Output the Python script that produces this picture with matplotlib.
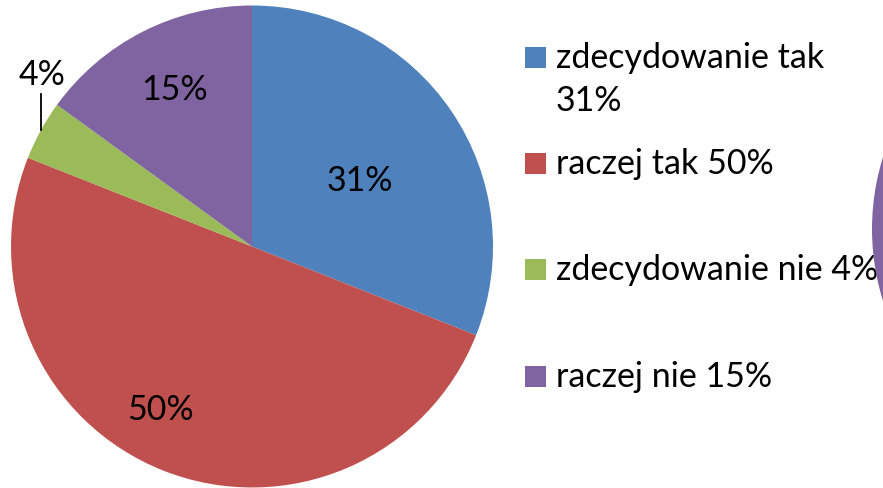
import numpy as np
import matplotlib.pyplot as plt
from matplotlib.patches import Circle, Rectangle

categories = ['zdecydowanie tak', 'raczej tak', 'zdecydowanie nie', 'raczej nie']
values = [31, 50, 4, 15]
legend_labels = ['zdecydowanie tak\n31%', 'raczej tak 50%', 'zdecydowanie nie 4%', 'raczej nie 15%']
colors = ['#4F81BD', '#C0504D', '#9BBB59', '#8064A2']

plt.rcParams['font.family'] = ['Lato', 'DejaVu Sans']
FS = 24.5

W, H = 883, 489
fig = plt.figure(figsize=(W / 100, H / 100), dpi=100)

# pie centre (252, 247.5) px, radius 241 px
cx, cy, r = 252, 247.5, 241
ax = fig.add_axes([(cx - r) / W, (H - cy - r) / H, 2 * r / W, 2 * r / H])
wedges, _ = ax.pie(values, colors=colors, startangle=90, counterclock=False,
                   radius=1, wedgeprops=dict(linewidth=0))
ax.set_xlim(-1, 1)
ax.set_ylim(-1, 1)
ax.set_aspect('equal')
ax.axis('off')

# percentage labels (positions, in pie radius units)
label_pos = [(0.448, 0.276), (-0.382, -0.674), (-0.871, 0.716), (-0.32, 0.654)]
for v, (x, y) in zip(values, label_pos):
    ax.text(x, y, f'{v}%', ha='center', va='center', fontsize=FS, color='black')

# leader line for the small slice
w = wedges[2]
mid = np.deg2rad((w.theta1 + w.theta2) / 2)
ex, ey = np.cos(mid), np.sin(mid)
ax.plot([ex, ex], [ey, ey + 0.15], color='black', lw=1.3, clip_on=False)

# legend
leg_y = [58, 164, 270, 377]
for c, lab, y in zip(colors, legend_labels, leg_y):
    fig.patches.append(Rectangle((525 / W, (H - y - 10.5) / H), 21 / W, 21 / H,
                                 transform=fig.transFigure, facecolor=c, edgecolor='none'))
    lines = lab.split('\n')
    for k, line in enumerate(lines):
        fig.text(556 / W, (H - y - 43 * k) / H, line, ha='left', va='center',
                 fontsize=FS, color='black')

# edge of neighbouring chart, cut off at the right (inches)
fig.patches.append(Circle((11.13, (H - 230) / 100), 2.41, transform=fig.dpi_scale_trans,
                          facecolor=colors[3], edgecolor='none', zorder=10))

fig.savefig('out.png', dpi=100)
